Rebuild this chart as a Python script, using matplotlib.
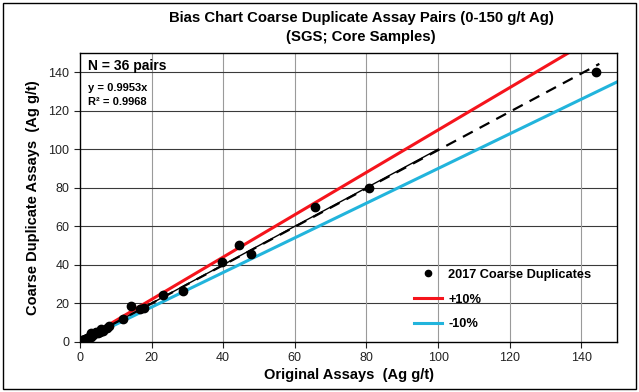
import matplotlib
matplotlib.use('Agg')
import matplotlib.pyplot as plt
from matplotlib.patches import Rectangle
import numpy as np

plt.rcParams['font.family'] = ['Liberation Sans', 'DejaVu Sans']

# original vs duplicate assays (Ag g/t)
original = [0.2, 0.3, 0.4, 0.5, 0.7, 0.9, 1.0, 1.1, 1.4, 1.8,
            2.0, 2.3, 2.8, 3.0, 3.2, 3.6, 4.2, 4.6, 5.0, 5.5,
            6.0, 6.5, 7.5, 8.0, 11.9, 14.2, 16.7, 18.0, 23.1, 28.9,
            39.8, 44.3, 47.7, 65.7, 80.6, 144.0]
duplicate = [0.3, 0.2, 0.5, 0.4, 0.8, 0.7, 1.2, 0.9, 1.5, 1.6,
             2.2, 2.1, 3.0, 2.7, 4.6, 3.4, 4.5, 5.3, 4.7, 5.0,
             6.4, 5.8, 7.3, 8.0, 11.6, 18.7, 16.9, 17.5, 24.2, 26.4,
             41.6, 50.3, 45.4, 70.1, 79.8, 140.0]
slope = 0.9953
r2 = 0.9968
ticks = [0, 20, 40, 60, 80, 100, 120, 140]

fig = plt.figure(figsize=(6.39, 3.92), dpi=100)
ax = fig.add_axes([0.125, 0.128, 0.841, 0.737])

for t in ticks[1:]:
    ax.axhline(t, color='#3a3a3a', lw=0.8, zorder=0)
    ax.axvline(t, color='#9a9a9a', lw=0.8, zorder=0)

xx = np.array([0, 150])
ax.plot(xx, 1.1 * xx, color='#f5141c', lw=2.2, label='+10%', zorder=2)
ax.plot(xx, 0.9 * xx, color='#22b4dc', lw=2.2, label='-10%', zorder=2)
ax.plot([0, 100], [0, 100], color='black', lw=1.0, zorder=3)
ax.plot([0, 145], [0, 145 * slope], color='black', lw=1.6,
        dashes=(5, 3.5), zorder=3)
ax.plot(original, duplicate, 'o', color='black', ms=6,
        label='2017 Coarse Duplicates', zorder=4)

ax.set_xlim(0, 150)
ax.set_ylim(0, 150)
ax.set_xticks(ticks)
ax.set_yticks(ticks)
ax.tick_params(direction='out', length=4, labelsize=9, colors='#222222')
for s in ax.spines.values():
    s.set_color('black')
    s.set_linewidth(1.0)

ax.set_xlabel('Original Assays  (Ag g/t)', fontsize=10.5, fontweight='bold', labelpad=3)
ax.set_ylabel('Coarse Duplicate Assays  (Ag g/t)', fontsize=10.5, fontweight='bold', labelpad=6)

ax.text(0.015, 0.955, 'N = 36 pairs', transform=ax.transAxes, fontsize=10,
        fontweight='bold', va='center', ha='left')
ax.text(0.015, 0.88, 'y = %.4fx' % slope, transform=ax.transAxes, fontsize=8,
        fontweight='bold', va='center', ha='left')
ax.text(0.015, 0.83, 'R² = %.4f' % r2, transform=ax.transAxes, fontsize=8,
        fontweight='bold', va='center', ha='left')

h, l = ax.get_legend_handles_labels()
order = [2, 0, 1]
ax.legend([h[i] for i in order], [l[i] for i in order], loc='lower left',
          bbox_to_anchor=(0.6, 0.0), frameon=False, labelspacing=1.0,
          handlelength=2.2, handletextpad=0.5, markerscale=0.75,
          prop={'weight': 'bold', 'size': 9.2})

fig.text(0.565, 0.955, 'Bias Chart Coarse Duplicate Assay Pairs (0-150 g/t Ag)',
         ha='center', va='center', fontsize=10.7, fontweight='bold')
fig.text(0.565, 0.905, '(SGS; Core Samples)', ha='center', va='center',
         fontsize=10.7, fontweight='bold')

fig.patches.append(Rectangle((0.005, 0.008), 0.99, 0.984, transform=fig.transFigure,
                             fill=False, edgecolor='black', lw=1.0))

fig.savefig('out.png', dpi=100)
